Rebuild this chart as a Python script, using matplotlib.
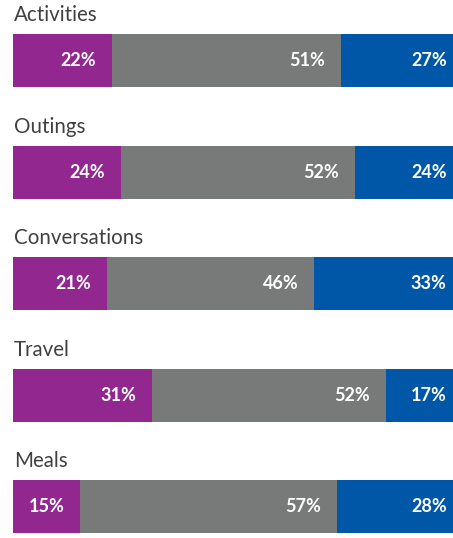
import matplotlib
matplotlib.use("Agg")
import matplotlib.pyplot as plt

categories = ["Activities", "Outings", "Conversations", "Travel", "Meals"]
purple_vals = [22, 24, 21, 31, 15]
gray_vals = [51, 52, 46, 52, 57]
blue_vals = [27, 24, 33, 17, 28]

colors = ["#92278f", "#777a78", "#0057a8"]

W, H = 453, 538
fig = plt.figure(figsize=(W / 100, H / 100), dpi=100)

bar_h = 53
for i, cat in enumerate(categories):
    top = 34 + i * 111.6
    ax = fig.add_axes([13 / W, (H - top - bar_h) / H, 450 / W, bar_h / H])
    left = 0
    for val, col in zip([purple_vals[i], gray_vals[i], blue_vals[i]], colors):
        ax.barh(0, val, left=left, height=1, color=col, edgecolor="none")
        ax.text(left + val - 3.6, 0, f"{val}%", ha="right", va="center",
                color="white", fontsize=13, fontweight="bold", family="Lato")
        left += val
    ax.set_xlim(0, 100)
    ax.set_ylim(-0.5, 0.5)
    ax.axis("off")
    ax.text(0.002, 1 + 13 / bar_h, cat, transform=ax.transAxes, ha="left",
            va="baseline", fontsize=14.8, color="#404040", family="Lato")

fig.savefig("out.png", dpi=100)
